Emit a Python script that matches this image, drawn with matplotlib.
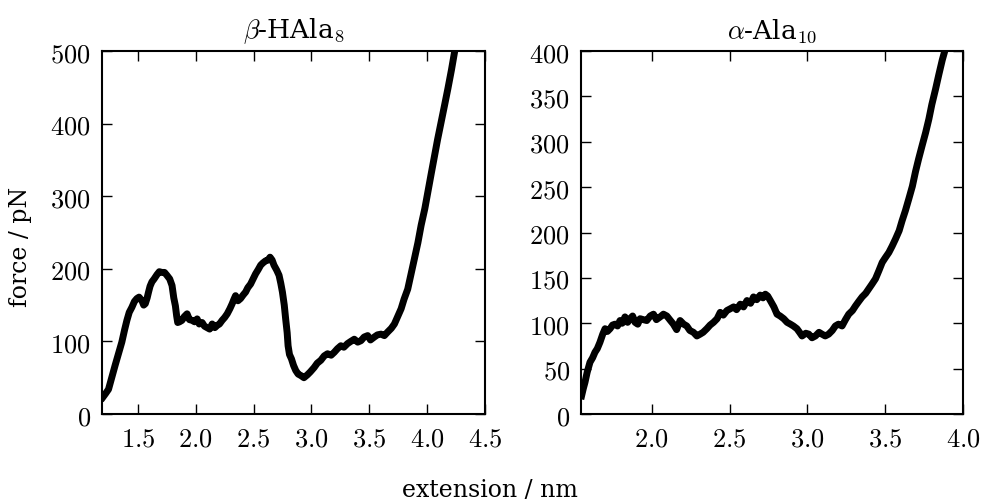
import matplotlib
matplotlib.use('Agg')
import matplotlib.pyplot as plt
from matplotlib.ticker import FormatStrFormatter, MultipleLocator

plt.rcParams['mathtext.fontset'] = 'cm'
plt.rcParams['font.family'] = ['DejaVu Serif']

# beta-HAla8 : extension (nm) vs force (pN)
ext_beta = [1.197, 1.22, 1.246, 1.27, 1.303, 1.33, 1.361, 1.385, 1.405, 1.425, 1.448, 1.47,
            1.491, 1.51, 1.535, 1.55, 1.564, 1.58, 1.592, 1.605, 1.621, 1.64, 1.665, 1.685,
            1.708, 1.73, 1.751, 1.775, 1.795, 1.81, 1.824, 1.835, 1.844, 1.86, 1.881, 1.90,
            1.925, 1.945, 1.968, 1.99, 2.012, 2.03, 2.055, 2.075, 2.098, 2.12, 2.142, 2.165,
            2.185, 2.205, 2.228, 2.25, 2.272, 2.295, 2.315, 2.33, 2.344, 2.365, 2.387, 2.41,
            2.431, 2.45, 2.474, 2.495, 2.517, 2.54, 2.561, 2.58, 2.604, 2.625, 2.642, 2.66,
            2.676, 2.70, 2.720, 2.735, 2.749, 2.765, 2.777, 2.79, 2.798, 2.81, 2.827, 2.845,
            2.864, 2.885, 2.908, 2.935, 2.965, 2.99, 3.023, 3.05, 3.081, 3.11, 3.139, 3.17,
            3.197, 3.225, 3.254, 3.28, 3.312, 3.34, 3.370, 3.40, 3.428, 3.455, 3.486, 3.51,
            3.543, 3.57, 3.601, 3.63, 3.659, 3.69, 3.717, 3.745, 3.775, 3.80, 3.832, 3.86,
            3.890, 3.92, 3.948, 3.98, 4.006, 4.035, 4.064, 4.09, 4.121, 4.15, 4.179, 4.21,
            4.237, 4.26]
force_beta = [23, 28, 34, 48, 67, 82, 99, 116, 129, 140, 147, 155,
              159, 161, 156, 150, 152, 160, 168, 176, 182, 186, 192, 196,
              195, 195, 191, 186, 177, 160, 149, 135, 126, 127, 129, 134,
              138, 130, 129, 127, 131, 124, 126, 121, 119, 117, 124, 119,
              122, 124, 129, 133, 138, 145, 152, 158, 163, 156, 159, 164,
              168, 174, 179, 186, 193, 199, 205, 208, 211, 212, 216, 212,
              205, 198, 191, 180, 168, 150, 131, 112, 94, 82, 76, 67,
              60, 55, 53, 50, 54, 58, 64, 70, 74, 80, 83, 81,
              85, 90, 94, 92, 97, 100, 103, 99, 101, 106, 108, 102,
              106, 109, 110, 108, 113, 118, 124, 134, 145, 158, 172, 192,
              214, 236, 260, 283, 306, 331, 356, 378, 402, 425, 448, 474,
              499, 520]

# alpha-Ala10
ext_alpha = [1.549, 1.56, 1.571, 1.585, 1.603, 1.62, 1.635, 1.65, 1.667, 1.685, 1.700, 1.715,
             1.732, 1.748, 1.764, 1.78, 1.796, 1.81, 1.828, 1.845, 1.861, 1.877, 1.893, 1.91,
             1.925, 1.945, 1.968, 1.99, 2.011, 2.03, 2.054, 2.075, 2.097, 2.12, 2.139, 2.16,
             2.182, 2.205, 2.225, 2.245, 2.268, 2.29, 2.311, 2.33, 2.354, 2.375, 2.397, 2.42,
             2.440, 2.46, 2.483, 2.505, 2.526, 2.545, 2.569, 2.59, 2.612, 2.635, 2.654, 2.675,
             2.697, 2.715, 2.730, 2.745, 2.762, 2.785, 2.805, 2.825, 2.848, 2.87, 2.891, 2.91,
             2.933, 2.95, 2.966, 2.99, 3.009, 3.03, 3.052, 3.075, 3.094, 3.115, 3.137, 3.16,
             3.180, 3.20, 3.223, 3.245, 3.266, 3.29, 3.309, 3.33, 3.352, 3.375, 3.395, 3.415,
             3.438, 3.46, 3.481, 3.50, 3.524, 3.545, 3.567, 3.59, 3.609, 3.63, 3.652, 3.675,
             3.695, 3.715, 3.738, 3.76, 3.781, 3.80, 3.824, 3.845, 3.867, 3.888]
force_alpha = [20, 28, 35, 46, 57, 62, 68, 72, 79, 88, 94, 91,
               94, 98, 99, 97, 103, 100, 107, 101, 105, 108, 101, 99,
               105, 104, 103, 108, 110, 104, 107, 110, 108, 103, 99, 93,
               103, 99, 97, 92, 90, 86, 88, 90, 94, 98, 101, 105,
               112, 109, 114, 116, 118, 115, 121, 118, 125, 122, 129, 126,
               131, 128, 132, 130, 125, 118, 110, 108, 105, 101, 99, 97,
               94, 90, 86, 89, 88, 84, 86, 90, 88, 86, 88, 92,
               97, 99, 97, 104, 110, 114, 119, 124, 129, 133, 138, 143,
               149, 158, 167, 172, 178, 185, 193, 202, 213, 224, 237, 251,
               267, 281, 296, 310, 325, 341, 358, 374, 390, 403]

fig = plt.figure(figsize=(9.83, 5.02), dpi=100)
ax1 = fig.add_axes([0.1038, 0.1733, 0.3896, 0.7231])
ax2 = fig.add_axes([0.591, 0.1733, 0.3886, 0.7231])

ax1.plot(ext_beta, force_beta, color='black', lw=5, solid_joinstyle='round')
ax1.set_xlim(1.19, 4.5)
ax1.set_ylim(0, 500)
ax1.xaxis.set_major_locator(MultipleLocator(0.5))
ax1.yaxis.set_major_locator(MultipleLocator(100))
ax1.set_title(r'$\beta$-HAla$_8$', fontsize=19, pad=10)

ax2.plot(ext_alpha, force_alpha, color='black', lw=5, solid_joinstyle='round')
ax2.set_xlim(1.545, 4.0)
ax2.set_ylim(0, 400)
ax2.xaxis.set_major_locator(MultipleLocator(0.5))
ax2.yaxis.set_major_locator(MultipleLocator(50))
ax2.set_title(r'$\alpha$-Ala$_{10}$', fontsize=19, pad=10)

for ax in (ax1, ax2):
    ax.xaxis.set_major_formatter(FormatStrFormatter(r'$%.1f$'))
    ax.yaxis.set_major_formatter(FormatStrFormatter(r'$%d$'))
    ax.tick_params(direction='in', top=True, right=True, length=7, width=1,
                   labelsize=19, pad=8)
    for sp in ax.spines.values():
        sp.set_linewidth(1.5)

fig.text(0.021, 0.508, 'force / pN', rotation=90, ha='center', va='center', fontsize=17)
fig.text(0.498, 0.01, 'extension / nm', ha='center', va='baseline', fontsize=17)

fig.savefig('out.png', dpi=100)
